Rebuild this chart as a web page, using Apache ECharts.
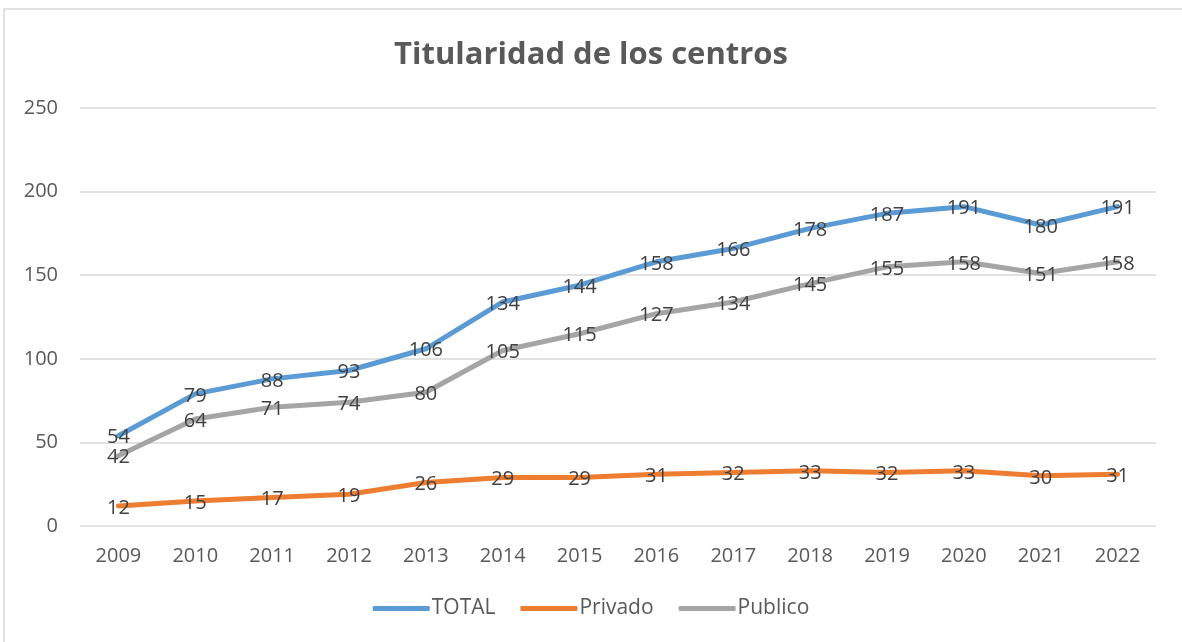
<!DOCTYPE html>
<html><head><meta charset="utf-8">
<script src="https://cdn.jsdelivr.net/npm/echarts@6/dist/echarts.min.js"></script>
<style>html,body{margin:0;padding:0;background:#fff}#c{width:1182px;height:642px}</style>
</head><body><div id="c"></div>
<script>
const years = ['2009','2010','2011','2012','2013','2014','2015','2016','2017','2018','2019','2020','2021','2022'];
const total = [54,79,88,93,106,134,144,158,166,178,187,191,180,191];
const privado = [12,15,17,19,26,29,29,31,32,33,32,33,30,31];
const publico = [42,64,71,74,80,105,115,127,134,145,155,158,151,158];
const yTicks = [0,50,100,150,200,250];

const font = "'Open Sans', 'Noto Sans', sans-serif";
const chart = echarts.init(document.getElementById('c'));
function s(name, data, color){
  return {name, type:'line', data, symbol:'circle', symbolSize:0, showSymbol:true,
    lineStyle:{width:5,color,cap:'round',join:'round'}, itemStyle:{color},
    label:{show:true,position:'inside',offset:[0,2],color:'#404040',fontSize:20,fontFamily:font}};
}
chart.setOption({
  animation:false,
  graphic:[{type:'rect',shape:{x:4,y:9,width:1200,height:700},style:{fill:'none',stroke:'#d9d9d9',lineWidth:1.5},silent:true}],
  title:{text:'Titularidad de los centros',left:'center',top:35,textStyle:{fontFamily:font,fontSize:31,fontWeight:'bold',color:'#595959'}},
  grid:{left:80,right:26,top:108,bottom:116},
  legend:{bottom:18,left:'center',itemWidth:57,itemHeight:5,itemGap:25,icon:'roundRect',
    textStyle:{fontFamily:font,fontSize:21,color:'#595959',padding:[0,0,0,-3]}},
  xAxis:{type:'category',data:years,boundaryGap:true,axisLine:{show:false},axisTick:{show:false},
    axisLabel:{fontFamily:font,fontSize:20,color:'#595959',margin:20}},
  yAxis:{type:'value',min:yTicks[0],max:yTicks[yTicks.length-1],interval:50,
    axisLabel:{fontFamily:font,fontSize:20,color:'#595959',margin:22},
    splitLine:{lineStyle:{color:'#d9d9d9',width:1.5}}},
  series:[s('TOTAL',total,'#5B9BD5'),s('Privado',privado,'#ED7D31'),s('Publico',publico,'#A5A5A5')]
});
</script></body></html>
